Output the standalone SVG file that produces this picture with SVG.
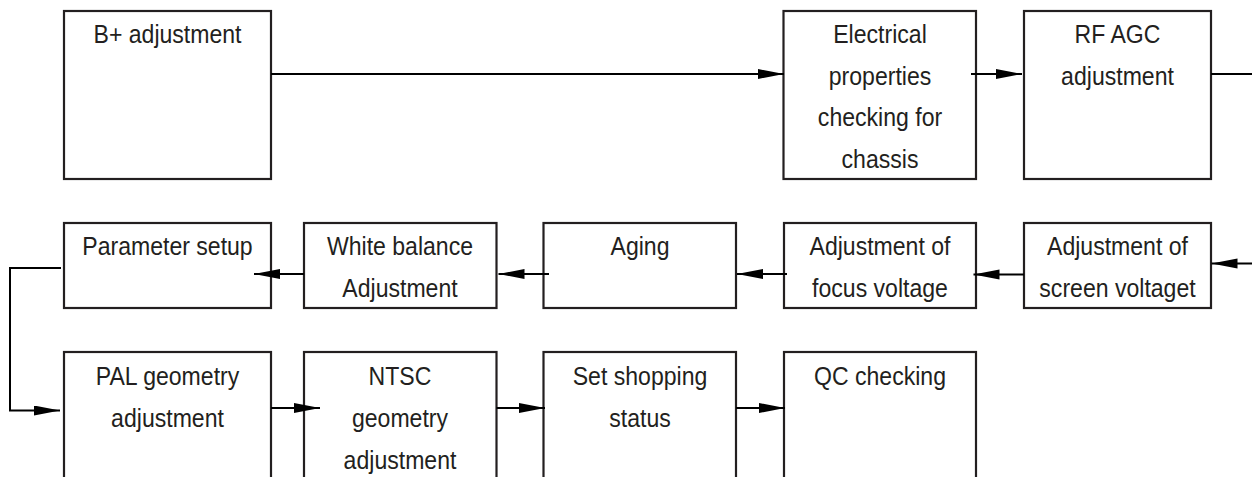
<svg xmlns="http://www.w3.org/2000/svg" width="1252" height="477" viewBox="0 0 1252 477">
<style>
.box{fill:#fff;stroke:#231f20;stroke-width:2.2}
.lbl{font-family:"Liberation Sans",Arial,sans-serif;font-size:26px;fill:#231f20;text-anchor:middle}
.con{fill:none;stroke:#000;stroke-width:2}
</style>
<defs>
<marker id="ah" markerUnits="userSpaceOnUse" markerWidth="27" markerHeight="11" refX="26" refY="5" orient="auto">
<path d="M0,0 L26,5 L0,10 Z" fill="#000"/>
</marker>
</defs>
<rect width="1252" height="477" fill="#fff"/>
<g id="n-bplus"><rect class="box" x="64" y="11" width="207" height="168"/><text class="lbl" transform="translate(167.5 43) scale(0.887 1)">B+ adjustment</text></g>
<g id="n-elec"><rect class="box" x="783.5" y="11" width="192.5" height="168"/><text class="lbl" transform="translate(880 43) scale(0.887 1)">Electrical</text><text class="lbl" transform="translate(880 84.5) scale(0.887 1)">properties</text><text class="lbl" transform="translate(880 126) scale(0.887 1)">checking for</text><text class="lbl" transform="translate(880 167.5) scale(0.887 1)">chassis</text></g>
<g id="n-rfagc"><rect class="box" x="1024" y="11" width="187" height="168"/><text class="lbl" transform="translate(1117.5 43) scale(0.887 1)">RF AGC</text><text class="lbl" transform="translate(1117.5 85) scale(0.887 1)">adjustment</text></g>
<g id="n-param"><rect class="box" x="64" y="223" width="207" height="85"/><text class="lbl" transform="translate(167.5 254.5) scale(0.887 1)">Parameter setup</text></g>
<g id="n-wb"><rect class="box" x="304" y="223" width="192.5" height="85"/><text class="lbl" transform="translate(400 254.5) scale(0.887 1)">White balance</text><text class="lbl" transform="translate(400 296.5) scale(0.887 1)">Adjustment</text></g>
<g id="n-aging"><rect class="box" x="543.5" y="223" width="192.5" height="85"/><text class="lbl" transform="translate(640 254.5) scale(0.887 1)">Aging</text></g>
<g id="n-focus"><rect class="box" x="784" y="223" width="192" height="85"/><text class="lbl" transform="translate(880 254.5) scale(0.887 1)">Adjustment of</text><text class="lbl" transform="translate(880 296.5) scale(0.887 1)">focus voltage</text></g>
<g id="n-screen"><rect class="box" x="1024" y="223" width="187" height="85"/><text class="lbl" transform="translate(1117.5 254.5) scale(0.887 1)">Adjustment of</text><text class="lbl" transform="translate(1117.5 296.5) scale(0.887 1)">screen voltaget</text></g>
<g id="n-pal"><rect class="box" x="64" y="352" width="207" height="150"/><text class="lbl" transform="translate(167.5 385) scale(0.887 1)">PAL geometry</text><text class="lbl" transform="translate(167.5 427) scale(0.887 1)">adjustment</text></g>
<g id="n-ntsc"><rect class="box" x="304" y="352" width="192.5" height="150"/><text class="lbl" transform="translate(400 385) scale(0.887 1)">NTSC</text><text class="lbl" transform="translate(400 427) scale(0.887 1)">geometry</text><text class="lbl" transform="translate(400 469) scale(0.887 1)">adjustment</text></g>
<g id="n-ship"><rect class="box" x="543.5" y="352" width="192.5" height="150"/><text class="lbl" transform="translate(640 385) scale(0.887 1)">Set shopping</text><text class="lbl" transform="translate(640 427) scale(0.887 1)">status</text></g>
<g id="n-qc"><rect class="box" x="784" y="352" width="192" height="150"/><text class="lbl" transform="translate(880 385) scale(0.887 1)">QC checking</text></g>
<g id="connectors">
<path class="con" d="M271,74 L784,74" marker-end="url(#ah)"/>
<path class="con" d="M971,74 L1022,74" marker-end="url(#ah)"/>
<path class="con" d="M1211,74 L1252,74"/>
<path class="con" d="M1252,263.5 L1211.5,263.5" marker-end="url(#ah)"/>
<path class="con" d="M1024,274.5 L973.5,274.5" marker-end="url(#ah)"/>
<path class="con" d="M787,274 L737,274" marker-end="url(#ah)"/>
<path class="con" d="M549,274 L498.5,274" marker-end="url(#ah)"/>
<path class="con" d="M304,274 L254,274" marker-end="url(#ah)"/>
<path class="con" d="M61,268 L10,268 L10,410.5 L60,410.5" marker-end="url(#ah)"/>
<path class="con" d="M271,408 L320,408" marker-end="url(#ah)"/>
<path class="con" d="M496.5,408 L545,408" marker-end="url(#ah)"/>
<path class="con" d="M736,408 L785,408" marker-end="url(#ah)"/>
</g>
</svg>
